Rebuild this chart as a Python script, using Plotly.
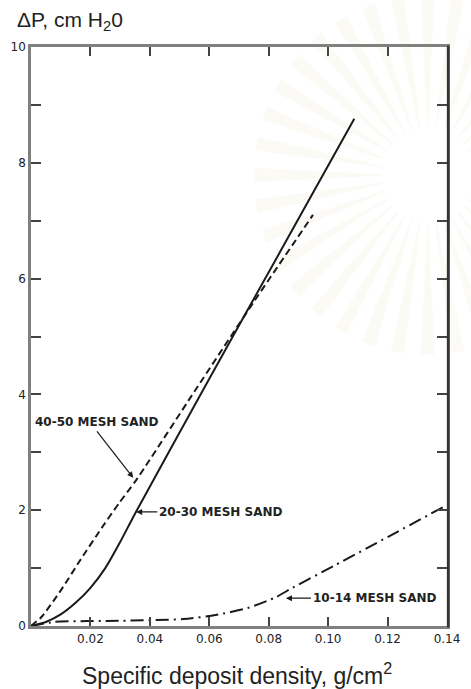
import math
import plotly.graph_objects as go

# Pressure drop vs. specific deposit density for three sand beds
x_20_30 = [0, 0.005, 0.010, 0.015, 0.020, 0.025, 0.030, 0.035, 0.060, 0.085, 0.1088]
y_20_30 = [0, 0.07, 0.20, 0.40, 0.66, 1.00, 1.45, 1.94, 4.27, 6.57, 8.76]

x_40_50 = [0, 0.0036, 0.0101, 0.0166, 0.0240, 0.0296, 0.0354, 0.055, 0.075, 0.0949]
y_40_50 = [0, 0.16, 0.62, 1.14, 1.71, 2.12, 2.52, 4.05, 5.60, 7.10]

x_10_14 = [0, 0.0078, 0.0296, 0.0513, 0.0621, 0.0729, 0.0825, 0.0880, 0.1020, 0.1205, 0.14]
y_10_14 = [0, 0.07, 0.09, 0.12, 0.19, 0.31, 0.50, 0.66, 1.04, 1.55, 2.09]

x_ticks = [0.02, 0.04, 0.06, 0.08, 0.10, 0.12, 0.14]
x_tick_text = ["0.02", "0.04", "0.06", "0.08", "0.10", "0.12", "0.14"]
y_ticks = [0, 2, 4, 6, 8, 10]
y_tick_text = ["0", "2", "4", "6", "8", "10"]

LABEL_FONT = dict(family="DejaVu Sans", size=12, color="#222")
AXIS_GRAY = "#808080"
INK = "#1a1a1a"

# plot-area geometry in pixels, used to place the faint background emblem
W, H = 471, 689
ML, MR, MT, MB = 29, 11, 47, 63
PW, PH = W - ML - MR, H - MT - MB


def px_to_paper(px, py):
    return (px - ML) / PW, (H - MB - py) / PH


def sunburst_shapes(cx, cy, r0, r1, n_rays, half_width_deg, color):
    shapes = []
    for k in range(n_rays):
        a = 2 * math.pi * k / n_rays
        da = math.radians(half_width_deg)
        pts = [
            (cx + r0 * math.cos(a - da * 0.4), cy + r0 * math.sin(a - da * 0.4)),
            (cx + r1 * math.cos(a - da), cy + r1 * math.sin(a - da)),
            (cx + r1 * math.cos(a + da), cy + r1 * math.sin(a + da)),
            (cx + r0 * math.cos(a + da * 0.4), cy + r0 * math.sin(a + da * 0.4)),
        ]
        path = "M " + " L ".join("{:.4f},{:.4f}".format(*px_to_paper(px, py)) for px, py in pts) + " Z"
        shapes.append(dict(type="path", xref="paper", yref="paper", path=path,
                           fillcolor=color, line=dict(width=0), layer="below"))
    return shapes


fig = go.Figure()

fig.add_trace(go.Scatter(
    x=x_20_30, y=y_20_30, mode="lines", name="20-30 MESH SAND",
    line=dict(color=INK, width=2, shape="spline", smoothing=0.6),
))
fig.add_trace(go.Scatter(
    x=x_40_50, y=y_40_50, mode="lines", name="40-50 MESH SAND",
    line=dict(color=INK, width=2, dash="7px,4px", shape="spline", smoothing=0.6),
))
fig.add_trace(go.Scatter(
    x=x_10_14, y=y_10_14, mode="lines", name="10-14 MESH SAND",
    line=dict(color=INK, width=2, dash="13px,5px,2px,5px", shape="spline", smoothing=0.6),
))

annotations = [
    # curve labels with pointer arrows
    dict(x=0.0354, y=1.97, ax=0.0425, ay=1.97, axref="x", ayref="y",
         text="<b>20-30 MESH SAND</b>", xanchor="left", showarrow=True,
         arrowhead=2, arrowsize=1, arrowwidth=1.2, arrowcolor=INK, font=LABEL_FONT),
    dict(x=0.0858, y=0.48, ax=0.0942, ay=0.48, axref="x", ayref="y",
         text="<b>10-14 MESH SAND</b>", xanchor="left", showarrow=True,
         arrowhead=2, arrowsize=1, arrowwidth=1.2, arrowcolor=INK, font=LABEL_FONT),
    dict(x=0.0344, y=2.56, ax=0.0222, ay=3.36, axref="x", ayref="y",
         text="<b>40-50 MESH SAND</b>", xanchor="center", yanchor="bottom",
         showarrow=True, arrowhead=2, arrowsize=1, arrowwidth=1.2,
         arrowcolor=INK, font=LABEL_FONT),
    # axis titles
    dict(x=-0.038, y=1.045, xref="paper", yref="paper", xanchor="left", yanchor="middle",
         text="ΔP, cm H<sub>2</sub>0", showarrow=False,
         font=dict(family="Liberation Sans", size=21, color="#222")),
    dict(x=0.494, y=-0.083, xref="paper", yref="paper", xanchor="center", yanchor="middle",
         text="Specific deposit density, g/cm<sup>2</sup>", showarrow=False,
         font=dict(family="Liberation Sans", size=23, color="#222")),
]

shapes = sunburst_shapes(440, 175, 48, 180, 36, 2.2, "rgba(236,226,192,0.16)")
shapes.append(dict(type="line", xref="paper", yref="paper",
                   x0=1 + 1.2 / PW, x1=1 + 1.2 / PW, y0=-1.2 / PH, y1=1 + 1.2 / PH,
                   line=dict(color="#333", width=2.6), layer="above"))

fig.update_layout(
    width=W, height=H,
    margin=dict(l=ML, r=MR, t=MT, b=MB),
    paper_bgcolor="white", plot_bgcolor="rgba(0,0,0,0)",
    showlegend=False,
    annotations=annotations,
    shapes=shapes,
)

fig.update_xaxes(
    range=[0, 0.14], tickvals=x_ticks, ticktext=x_tick_text,
    ticks="inside", ticklen=9, tickwidth=1.5, tickcolor="#444",
    showline=True, linecolor=AXIS_GRAY, linewidth=2.5, mirror="ticks",
    showgrid=False, zeroline=False,
    tickfont=dict(family="DejaVu Sans", size=12, color="#222"),
)
fig.update_yaxes(
    range=[0, 10], tickvals=y_ticks, ticktext=y_tick_text,
    ticks="inside", ticklen=10, tickwidth=1.5, tickcolor="#444",
    minor=dict(dtick=1, ticks="inside", ticklen=10, tickwidth=1.5, tickcolor="#444"),
    showline=True, linecolor=AXIS_GRAY, linewidth=2.5, mirror="ticks",
    showgrid=False, zeroline=False,
    tickfont=dict(family="DejaVu Sans", size=12, color="#222"),
)

fig.write_html("out.html")
